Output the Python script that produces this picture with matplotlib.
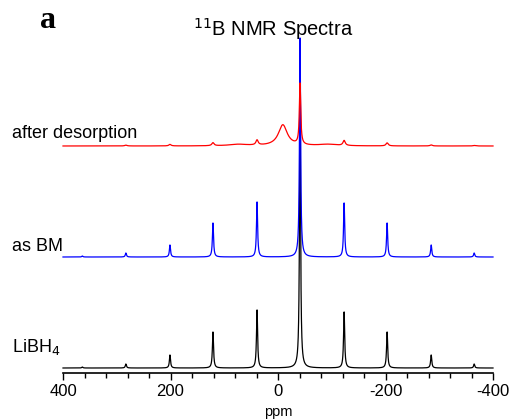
import numpy as np
import matplotlib.pyplot as plt
from matplotlib.ticker import MultipleLocator

plt.rcParams['font.family'] = ['Liberation Sans', 'DejaVu Sans']
plt.rcParams['axes.unicode_minus'] = False

# peak lists: position (ppm), height (a.u.), FWHM (ppm)
libh4_pos = [364, 283, 201, 121, 39, -41, -123, -203, -285, -365]
libh4_height = [1, 4, 13, 36, 58, 260, 56, 36, 13, 4]
libh4_width = [2.5, 2.5, 2.5, 2.5, 2.5, 2.5, 2.5, 2.5, 2.5, 2.5]

bm_pos = [364, 283, 201, 121, 39, -41, -123, -203, -285, -365]
bm_height = [1, 4, 12, 34, 55, 219, 54, 34, 12, 4]
bm_width = [2.5, 2.5, 2.5, 2.5, 2.5, 2.5, 2.5, 2.5, 2.5, 2.5]

des_pos = [283, 201, 121, 74, 39, -9, -41, -93, -123, -203, -285, -365]
des_height = [0.8, 1.5, 3, 1.5, 5, 21, 61, 1.5, 5, 3, 1, 0.5]
des_width = [5, 5, 5, 40, 5, 20, 3, 40, 5, 5, 5, 5]

offsets = [0, 111, 222]
labels = ['LiBH$_4$', 'as BM', 'after desorption']
label_y = [16, 117, 230]
colors = ['black', 'blue', 'red']

ppm = np.linspace(400, -400, 8001)


def spectrum(pos, height, width):
    y = np.zeros_like(ppm)
    for p, h, w in zip(pos, height, width):
        g = w / 2
        y += h * g**2 / ((ppm - p)**2 + g**2)
    return y


spectra = [spectrum(libh4_pos, libh4_height, libh4_width),
           spectrum(bm_pos, bm_height, bm_width),
           spectrum(des_pos, des_height, des_width)]

fig = plt.figure(figsize=(5.12, 4.19), dpi=100)
ax = fig.add_axes([63 / 512, 46 / 419, 430 / 512, 335 / 419])

for y, off, c in zip(spectra, offsets, colors):
    ax.plot(ppm, y + off, color=c, lw=0.9, clip_on=False)
for lab, ly in zip(labels, label_y):
    ax.text(-0.119, ly, lab, transform=ax.get_yaxis_transform(),
            fontsize=13, ha='left', va='baseline')

ax.set_xlim(400, -400)
ax.set_ylim(-5, 330)
ax.xaxis.set_major_locator(MultipleLocator(200))
ax.xaxis.set_minor_locator(MultipleLocator(40))
ax.tick_params(axis='x', which='major', length=5.3, width=1, labelsize=12, pad=2.5)
ax.tick_params(axis='x', which='minor', length=3.4, width=1)
ax.set_yticks([])
for s in ['left', 'right', 'top']:
    ax.spines[s].set_visible(False)
ax.spines['bottom'].set_linewidth(1.2)

fig.text(278 / 512, 0, 'ppm', ha='center', va='bottom', fontsize=10.5)
fig.text(273 / 512, 1 - 36 / 419, '$^{11}$B NMR Spectra', ha='center', va='baseline', fontsize=14.5)
fig.text(40 / 512, 1 - 28 / 419, 'a', family='Liberation Serif', weight='bold', fontsize=23,
         ha='left', va='baseline')

fig.savefig('out.png', dpi=100)
